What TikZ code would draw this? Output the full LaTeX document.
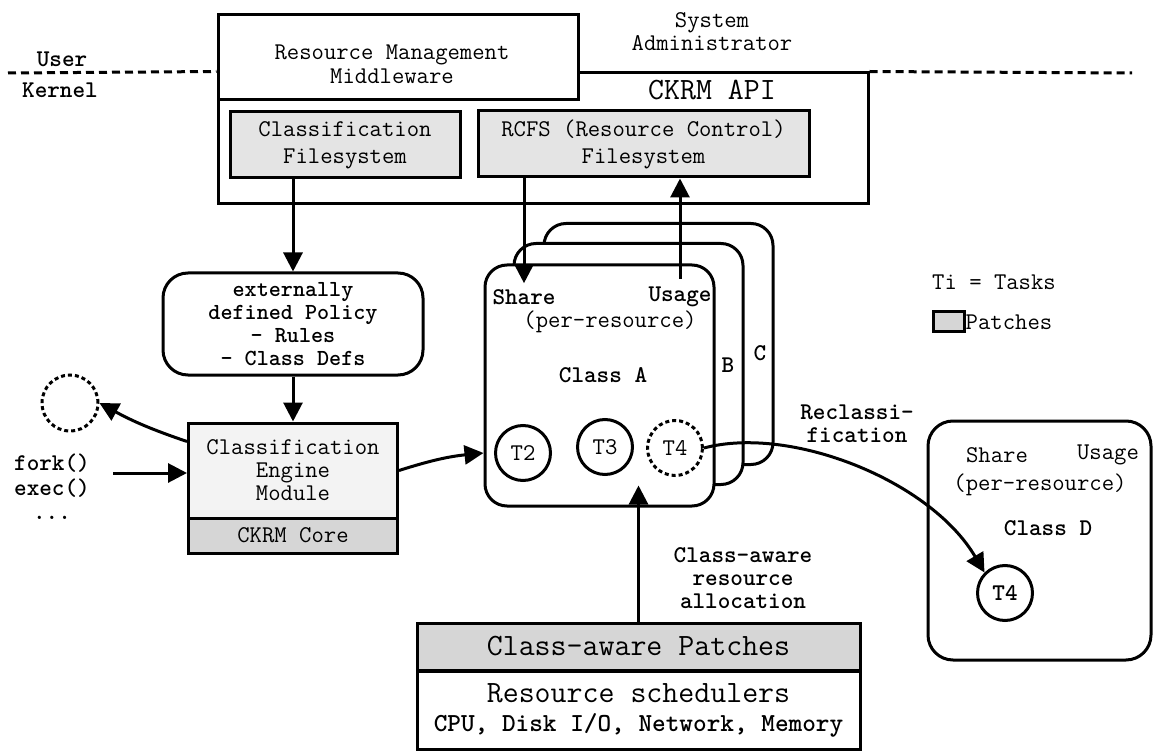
\documentclass[tikz,border=0pt]{standalone}
\usepackage{tikz}
\usepackage{xcolor}
\usetikzlibrary{arrows.meta}
\definecolor{patchgray}{RGB}{228,228,228}
\definecolor{coregray}{RGB}{214,214,214}
\definecolor{enginegray}{RGB}{243,243,243}
\newcommand{\txt}{\ttfamily\fontsize{24}{24}\selectfont}
\newcommand{\bigtxt}{\ttfamily\fontsize{31}{33}\selectfont}

\begin{document}
\begin{tikzpicture}[x=1pt, y=-1pt,
  every node/.style={font=\txt, inner sep=0pt, align=center},
  box/.style={draw, rectangle, line width=3pt},
  patch/.style={box, fill=patchgray},
  classbox/.style={draw, line width=3pt, rounded corners=22pt, fill=white, minimum width=229pt, minimum height=241pt},
  task/.style={draw, circle, line width=3pt, minimum size=55pt},
  arr/.style={-{Triangle[length=19pt,width=19pt]}, line width=3pt},
  splitline/.style={line width=3pt, dash pattern=on 8pt off 5pt}]
			\useasboundingbox (0,0) rectangle (1154,751);

			% User / Kernel boundary
			\coordinate (uleft) at (8,73);
			\coordinate (uright) at (1132,73);

			% CKRM API
			\node[box, minimum width=650pt, minimum height=131pt] (api) at (543,138.5) {};
			\node[font=\bigtxt] (apilabel) at (712,90) {CKRM API};

			% Middleware
			\node[box, fill=white, minimum width=360pt, minimum height=85pt] (mw) at (398,57.5) {};
			\node[font=\txt\fontsize{24}{24}\selectfont] (mwtext) at (392,64) {Resource Management\\Middleware};
			\node[font=\txt\fontsize{24}{23}\selectfont] (sysadmin) at (712,32) {System\\Administrator};
			\node[font=\txt\bfseries] (user) at (62,59) {User};
			\node[font=\txt\bfseries] (kernel) at (60,90) {Kernel};
			\draw[splitline] (uleft) -- (api.north west);
			\draw[splitline] (api.north east) -- (uright);

			% Filesystems
			\node[patch, minimum width=230pt, minimum height=66pt, font=\txt\fontsize{24}{27}\selectfont] (cfs) at (345,145) {Classification\\Filesystem};
			\node[patch, minimum width=331pt, minimum height=66pt, font=\txt\fontsize{24}{27}\selectfont] (rcfs) at (643.5,144) {RCFS (Resource Control)\\Filesystem};

			% Policy
			\node[box, rounded corners=25pt, minimum width=260pt, minimum height=102pt, font=\txt\fontsize{23}{23}\selectfont\bfseries] (policy) at (293,324) {externally\\defined Policy\\- Rules\\- Class Defs};

			% Engine and core
			\node[box, fill=enginegray, minimum width=209pt, minimum height=95pt, font=\txt\fontsize{24}{23}\selectfont] (engine) at (293,470.5) {Classification\\Engine\\Module};
			\node[box, fill=coregray, minimum width=209pt, minimum height=35pt] (core) at (293,535.5) {CKRM Core};

			% New task and system calls
			\node[draw, circle, line width=3pt, dash pattern=on 4pt off 3pt, minimum size=56pt] (newtask) at (70,403) {};
			\node[font=\txt\fontsize{24}{24.5}\selectfont\bfseries] (calls) at (52,487) {fork()\\exec()\\...};
			\coordinate (callsin) at (113,473);

			% Classes
			\node[classbox] (clsC) at (658.5,344) {};
			\node[classbox] (clsB) at (628.5,364) {};
			\node[classbox] (clsA) at (599.5,385.5) {};
			\node[font=\txt\bfseries] (labB) at (728,365) {B};
			\node[font=\txt\bfseries] (labC) at (760,353) {C};
			\node[font=\txt\bfseries] (shareA) at (524,297) {Share};
			\node[font=\txt\bfseries] (usageA) at (680,297) {Usage};
			\node (perresA) at (610,322) {(per-resource)};
			\node[font=\txt\bfseries] (nameA) at (603,375) {Class A};
			\node[task] (t2) at (523,453) {T2};
			\node[task] (t3) at (605,447) {T3};
			\node[task, dash pattern=on 4pt off 3pt] (t4a) at (675,448) {T4};

			% Class D
			\node[classbox, rounded corners=25pt, minimum width=223pt, minimum height=239pt] (clsD) at (1039.5,540.5) {};
			\node (shareD) at (997,455) {Share};
			\node (usageD) at (1108,455) {Usage};
			\node (perresD) at (1040,485) {(per-resource)};
			\node[font=\txt\bfseries] (nameD) at (1048,528) {Class D};
			\node[task, font=\txt\bfseries] (t4d) at (1005,593) {T4};

			% Legend
			\node (legtasks) at (994,282) {Ti = Tasks};
			\node[draw, line width=3pt, fill=coregray, minimum width=31pt, minimum height=20pt] (legbox) at (948.5,322) {};
			\node[anchor=west] (legpatch) at (legbox.east) {Patches};

			% Schedulers
			\node[patch, fill=coregray, minimum width=443pt, minimum height=47pt, font=\bigtxt] (cap) at (638.5,646.5) {Class-aware Patches};
			\node[box, minimum width=443pt, minimum height=78pt] (sched) at (638.5,710) {{\bigtxt Resource schedulers}\\[5pt]{\txt\fontsize{26}{26}\selectfont\bfseries CPU, Disk I/O, Network, Memory}};

			% Arrow labels
			\node[font=\txt\fontsize{24}{23}\selectfont\bfseries] (alloclab) at (743,578) {Class-aware\\resource\\allocation};
			\node[font=\txt\fontsize{24}{23}\selectfont\bfseries] (reclab) at (857,424) {Reclassi-\\fication};

			% Arrows
			\draw[arr] (cfs.south -| policy.north) -- (policy.north);
			\draw[arr] (policy.south) -- (engine.north);
			\draw[arr] ([yshift=-20pt]engine.north west) to[bend left=5] (newtask.east);
			\draw[arr] (callsin) -- (callsin -| engine.west);
			\draw[arr] (engine.east) to[bend left=6] (clsA.west |- t2);
			\draw[arr, shorten >=6pt] (rcfs.south -| shareA) -- (shareA.north);
			\draw[arr] ([yshift=8pt]usageA.north) -- (usageA.north |- rcfs.south);
			\draw[arr] (cap.north) -- ([yshift=22pt]cap.north |- clsA.south);
			\draw[arr] (t4a.east) .. controls (790,425) and (930,480) .. (t4d.north west);
		\end{tikzpicture}
\end{document}
